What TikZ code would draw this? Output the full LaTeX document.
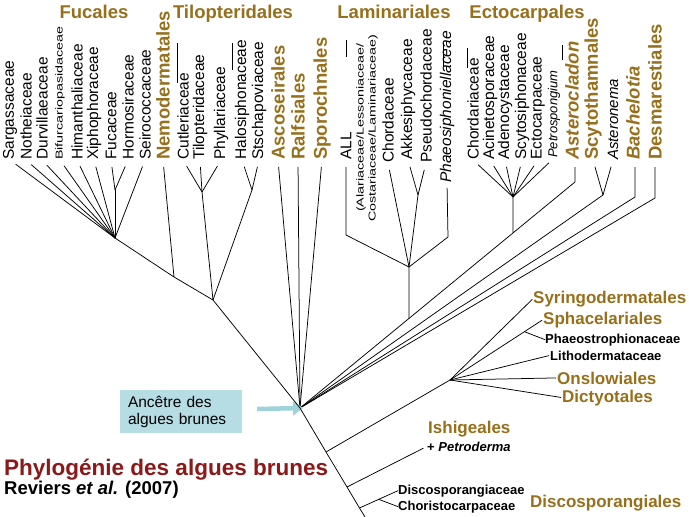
\documentclass[tikz,border=0pt]{standalone}
\usepackage{fontspec}
\setmainfont{Liberation Sans}
\usetikzlibrary{positioning, arrows.meta, calc}
\usepackage{xcolor}
\usepackage{graphicx}
\definecolor{OrdreBrun}{HTML}{98701C}
\definecolor{TitreRouge}{HTML}{8C1919}
\definecolor{AncetreBleu}{HTML}{B6DDE4}
\definecolor{FlecheBleu}{HTML}{9FD3DB}
\newcommand{\serre}[1]{\scalebox{1}[0.7]{#1}}

\begin{document}
\begin{tikzpicture}[x=1pt, y=-1pt,
  branche/.style={draw=black, line width=0.75pt},
  feuille/.style={branche, shorten <=7pt},
  famille/.style={rotate=90, anchor=west, inner sep=0pt, font=\fontsize{15.5}{16}\selectfont},
  serree/.style={famille, font=\fontsize{14.3}{15}\selectfont},
  ordre/.style={rotate=90, anchor=west, inner sep=0pt, text=OrdreBrun, font=\fontsize{18.5}{19}\selectfont\bfseries},
  ordreit/.style={ordre, font=\fontsize{18.5}{19}\selectfont\bfseries\itshape},
  entete/.style={anchor=base, inner sep=0pt, text=OrdreBrun, font=\fontsize{18.5}{19}\selectfont\bfseries},
  ordredroite/.style={anchor=base west, inner sep=0pt, text=OrdreBrun, font=\fontsize{17}{18}\selectfont\bfseries},
  famdroite/.style={anchor=base west, inner sep=0pt, font=\fontsize{13}{14}\selectfont\bfseries}]

  \fill[white] (0,0) rectangle (689,517);
  \useasboundingbox (0,0) rectangle (689,517);

  % En-tetes
  \node[entete] (t-fuc) at (94,18) {Fucales};
  \node[entete] (t-til) at (233,18) {Tilopteridales};
  \node[entete] (t-lam) at (394,18) {Laminariales};
  \node[entete] (t-ect) at (527,18) {Ectocarpales};

  % Barres au-dessus des groupes
  \foreach \x/\ya/\yb in {177/43/83, 232/43/70, 346/40/57, 443/43/67, 467/48/68, 562/45/60}
    \draw[branche] (\x,\ya) -- (\x,\yb);

  % Noeuds internes
  \coordinate (racine) at (300,408);
  \coordinate (n-fuc) at (115,238);
  \coordinate (n-fuc2) at (115,190);
  \coordinate (j-nemo) at (174,277);
  \coordinate (j-tilo) at (213,300);
  \coordinate (n-tilo1) at (202,192);
  \coordinate (n-tilo2) at (252,190);
  \coordinate (b-aste) at (575,182);
  \coordinate (j-ecto) at ($(racine)!0.775!(b-aste)$);
  \coordinate (j-lam) at ($(racine)!0.396!(b-aste)$);
  \coordinate (n-ecto) at (513,197);
  \coordinate (n-lam) at (409,267);
  \coordinate (n-lam1) at (418,195);
  \coordinate (b-all) at (346,235);
  \coordinate (b-phae) at (448,237);
  \coordinate (n-scyt) at (603,195);
  \coordinate (b-bach) at (635,197);
  \coordinate (b-desm) at (655,198);
  \coordinate (n-syri) at (450,380);
  \coordinate (j-syri) at (326,452);
  \coordinate (j-ishi) at (347,487);
  \coordinate (j-disc) at (359.5,508);
  \coordinate (bas) at (365,517);

  % Fucales
  \foreach \x/\nom/\texte in {10/sarg/Sargassaceae, 26/noth/Notheiaceae, 42/durv/Durvillaeaceae,
      77/hima/Himanthaliaceae, 94/xiph/Xiphophoraceae, 111/fuca/Fucaceae,
      128/horm/Hormosiraceae, 145/seir/Seirococcaceae}
    \node[famille] (\nom) at (\x,160) {\texte};
  \node[serree] (bifu) at (60,160) {\serre{Bifurcariopasidaceae}};
  \node[ordre] (nemo) at (163,160) {Nemodermatales};
  \foreach \nom in {sarg,noth,durv,bifu,hima,xiph,seir}
    \draw[feuille] (\nom.west) -- (n-fuc);
  \draw[feuille] (fuca.west) -- (n-fuc2);
  \draw[feuille] (horm.west) -- (n-fuc2);
  \draw[branche] (n-fuc2) -- (n-fuc);
  \draw[feuille] (nemo.west) -- (j-nemo);

  % Tilopteridales
  \foreach \x/\nom/\texte in {183/cutl/Cutleriaceae, 200/tilo/Tilopteridaceae, 221/phyl/Phyllariaceae,
      242/halo/Halosiphonaceae, 259/stsc/Stschapoviaceae}
    \node[famille] (\nom) at (\x,160) {\texte};
  \foreach \nom in {cutl,tilo,phyl}
    \draw[feuille] (\nom.west) -- (n-tilo1);
  \foreach \nom in {halo,stsc}
    \draw[feuille] (\nom.west) -- (n-tilo2);
  \draw[branche] (n-tilo1) -- (j-tilo);
  \draw[branche] (n-tilo2) -- (j-tilo);

  % Ordres isoles
  \node[ordre] (asco) at (278,160) {Ascoseirales};
  \node[ordre] (ralf) at (298,160) {Ralfsiales};
  \node[ordre] (spor) at (322,160) {Sporochnales};
  \foreach \nom in {asco,ralf,spor}
    \draw[feuille] (\nom.west) -- (racine);

  % Laminariales
  \node[famille] (all) at (346,160) {ALL};
  \node[serree] (alar) at (361,212) {\serre{(Alariaceae/Lessoniaceae/}};
  \node[serree] (cost) at (373,222) {\serre{Costariaceae/Laminariaceae)}};
  \node[famille] (chor) at (388,163) {Chordaceae};
  \node[famille] (akke) at (408,160) {Akkesiphycaceae};
  \node[famille] (pseu) at (426,163) {Pseudochordaceae};
  \node[famille, font=\fontsize{15.5}{16}\selectfont\itshape] (phae) at (447,183) {Phaeosiphoniellaceae};
  \draw[feuille] (all.west) -- (b-all) -- (n-lam);
  \draw[feuille] (chor.west) -- (n-lam);
  \draw[feuille] (akke.west) -- (n-lam1);
  \draw[feuille] (pseu.west) -- (n-lam1);
  \draw[branche] (n-lam1) -- (n-lam);
  \draw[feuille, shorten <=5pt] (phae.west) -- (b-phae) -- (n-lam);
  \draw[branche] (n-lam) -- (j-lam);

  % Ectocarpales
  \foreach \x/\nom/\texte in {473/chod/Chordariaceae, 490/acin/Acinetosporaceae, 505/aden/Adenocystaceae,
      522/scys/Scytosiphonaceae, 538/ectc/Ectocarpaceae}
    \node[famille] (\nom) at (\x,160) {\texte};
  \node[famille, font=\fontsize{13}{14}\selectfont\itshape] (petr) at (554,158) {Petrospongium};
  \foreach \nom in {chod,acin,aden,scys,ectc,petr}
    \draw[feuille] (\nom.west) -- (n-ecto);
  \draw[branche] (n-ecto) -- (j-ecto);

  % Asterocladon, Scytothamnales, Bachelotia, Desmarestiales
  \node[ordreit] (aste) at (572,160) {Asterocladon};
  \node[ordre] (scyt) at (593,160) {Scytothamnales};
  \node[famille, font=\fontsize{15}{16}\selectfont\itshape] (asto) at (613,160) {Asteronema};
  \node[ordreit] (bach) at (633,160) {Bachelotia};
  \node[ordre] (desm) at (655,160) {Desmarestiales};
  \draw[feuille] ([xshift=3pt]aste.west) -- (b-aste) -- (racine);
  \draw[feuille] (scyt.west) -- (n-scyt);
  \draw[feuille] (asto.west) -- (n-scyt);
  \draw[branche] (n-scyt) -- (racine);
  \draw[feuille] ([xshift=2pt]bach.west) -- (b-bach) -- (racine);
  \draw[feuille] (desm.west) -- (b-desm) -- (racine);

  % Syringodermatales et voisins
  \node[ordredroite] (syri) at (533,303) {Syringodermatales};
  \node[ordredroite] (spha) at (543,324) {Sphacelariales};
  \node[famdroite] (phst) at (545,343) {Phaeostrophionaceae};
  \node[famdroite] (lith) at (550,360) {Lithodermataceae};
  \node[ordredroite] (onsl) at (557,384) {Onslowiales};
  \node[ordredroite] (dict) at (562,402) {Dictyotales};
  \foreach \nom in {syri,spha,lith,onsl,dict}
    \draw[branche, shorten >=1pt] (n-syri) -- (\nom.west);
  \draw[branche] ($(n-syri)!0.8!(spha.west)$) -- (phst.west);
  \draw[branche] (j-syri) -- (n-syri);

  % Ishigeales
  \node[ordredroite] (ishi) at (428,433) {Ishigeales};
  \node[famdroite] (petd) at (427,451) {+ \textit{Petroderma}};
  \draw[branche, shorten >=4pt] (j-ishi) -- (petd.west);

  % Discosporangiales
  \node[famdroite] (dspa) at (398,494) {Discosporangiaceae};
  \node[famdroite] (chrc) at (398,510) {Choristocarpaceae};
  \node[ordredroite] (dsps) at (530,507) {Discosporangiales};
  \draw[branche] (j-disc) -- (dspa.west);
  \draw[branche] ($(j-disc)!0.5!(dspa.west)$) -- (chrc.west);

  % Ancetre
  \node[fill=AncetreBleu, minimum width=122pt, minimum height=43pt, text width=106pt,
    inner xsep=8pt, align=left, font=\fontsize{15.5}{17}\selectfont] (anc) at (181,411.5)
    {Anc\^etre des\\algues brunes};
  \draw[-{Triangle[length=10pt,width=14pt]}, line width=4.5pt, FlecheBleu]
    ([xshift=15pt,yshift=2.5pt]anc.east) -- ([xshift=3pt]racine);

  % Tronc
  \draw[branche] (n-fuc) -- (j-nemo) -- (j-tilo) -- (racine) -- (j-syri) -- (j-ishi) -- (j-disc) -- (bas);

  % Titre
  \node[anchor=base west, inner sep=0pt, text=TitreRouge, font=\fontsize{22.5}{24}\selectfont\bfseries]
    (titre) at (4,475) {Phylogénie des algues brunes};
  \node[anchor=base west, inner sep=0pt, font=\fontsize{18.5}{20}\selectfont\bfseries]
    (ref) at (4,494) {Reviers \textit{et al.} (2007)};
\end{tikzpicture}
\end{document}
